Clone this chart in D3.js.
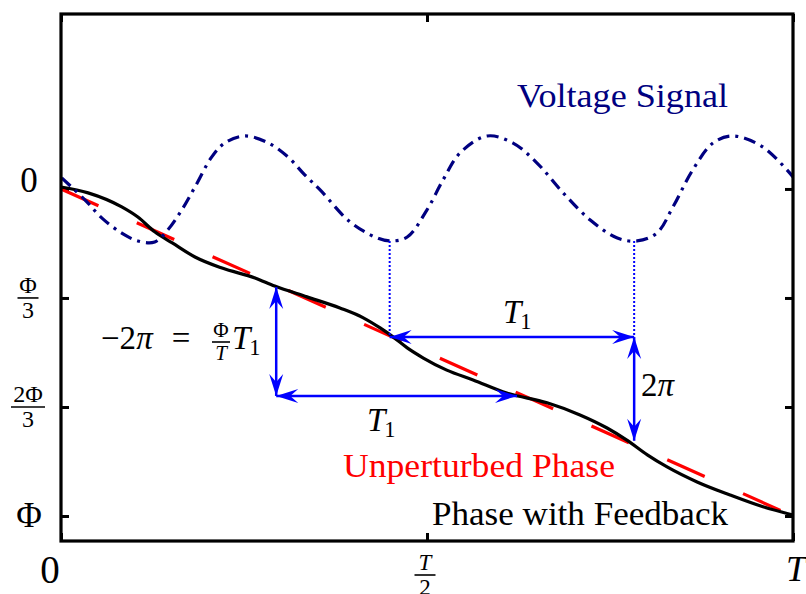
<!DOCTYPE html>
<html><head><meta charset="utf-8">
<script src="https://cdn.jsdelivr.net/npm/d3@7"></script>
<style>
body{margin:0;background:#fff}
svg{display:block}
</style>
</head><body>
<svg id="c" width="806" height="594"></svg>
<script>
// ---- data (time in units of T, phase in units of Φ, growing downward) ----
const xTickValues = [0, 0.5, 1];
const yTickValues = [0, 1/3, 2/3, 1];
const yTickLabels = [["0"], ["Φ","3"], ["2Φ","3"], ["Φ"]];

const unperturbedT = [0, 1];
const unperturbedPhase = [0, 1];

const feedbackT = [0,0.037,0.083,0.105,0.128,0.152,0.183,0.220,0.265,0.292,0.336,0.381,0.413,0.436,0.454,0.473,0.495,0.527,0.563,0.609,0.664,0.709,0.746,0.773,0.801,0.828,0.869,0.914,0.959,1.0];
const feedbackPhase = [-0.006,0.012,0.055,0.086,0.131,0.165,0.208,0.242,0.272,0.297,0.330,0.364,0.394,0.425,0.453,0.486,0.517,0.554,0.584,0.624,0.654,0.691,0.731,0.768,0.813,0.850,0.896,0.936,0.972,0.997];

const voltageT = [0.001,0.033,0.056,0.083,0.105,0.128,0.146,0.165,0.183,0.206,0.224,0.251,0.283,0.310,0.333,0.354,0.395,0.432,0.449,0.473,0.500,0.522,0.545,0.582,0.617,0.650,0.686,0.723,0.760,0.787,0.814,0.836,0.863,0.891,0.918,0.959,1.0];
const voltageLevel = [-0.034,0.034,0.089,0.135,0.159,0.162,0.125,0.064,-0.006,-0.098,-0.141,-0.162,-0.141,-0.098,-0.043,0.003,0.101,0.150,0.159,0.147,0.064,-0.028,-0.110,-0.162,-0.141,-0.080,0.012,0.095,0.150,0.159,0.135,0.055,-0.058,-0.141,-0.162,-0.128,-0.037];

// annotation anchors (data units)
const t1Start = 0.449, t1End = 0.783, t1Level = 0.453, twoPiEnd = 0.770;
const leftArrowT = 0.294, leftArrowTop = 0.300, leftArrowBottom = 0.633, leftArrowEnd = 0.623;
const voltageMinLevel = 0.159;

const SERIF = "'Liberation Serif', 'Times New Roman', Tinos, 'DejaVu Serif', serif";

// ---- layout ----
const svg = d3.select("#c");
const x = d3.scaleLinear().domain([0, 1]).range([61, 793]);
const y = d3.scaleLinear().domain([-0.535, 1.0765]).range([14, 541]);

const gAxes = svg.append("g");
function styleAxis(g){
  g.select(".domain").remove();
  g.selectAll(".tick line").attr("stroke","#000").attr("stroke-width",3);
}
gAxes.append("g").attr("transform",`translate(${x(0)},0)`)
  .call(d3.axisLeft(y).tickValues(yTickValues).tickFormat("").tickSizeInner(-8).tickSizeOuter(0)).call(styleAxis);
gAxes.append("g").attr("transform",`translate(${x(1)},0)`)
  .call(d3.axisRight(y).tickValues(yTickValues).tickFormat("").tickSizeInner(-8).tickSizeOuter(0)).call(styleAxis);
gAxes.append("g").attr("transform",`translate(0,${y.range()[1]})`)
  .call(d3.axisBottom(x).tickValues(xTickValues).tickFormat("").tickSizeInner(-8).tickSizeOuter(0)).call(styleAxis);
gAxes.append("g").attr("transform",`translate(0,${y.range()[0]})`)
  .call(d3.axisTop(x).tickValues(xTickValues).tickFormat("").tickSizeInner(-8).tickSizeOuter(0)).call(styleAxis);

// ---- lines ----
const lineSmooth = d3.line().x(d=>x(d[0])).y(d=>y(d[1])).curve(d3.curveCatmullRom.alpha(0.5));
const lineMono = d3.line().x(d=>x(d[0])).y(d=>y(d[1])).curve(d3.curveMonotoneX);
svg.append("path").datum(d3.zip(unperturbedT, unperturbedPhase)).attr("d", lineMono)
  .attr("fill","none").attr("stroke","#ff0000").attr("stroke-width",3.2).attr("stroke-dasharray","41,42");
svg.append("path").datum(d3.zip(feedbackT, feedbackPhase)).attr("d", lineMono)
  .attr("fill","none").attr("stroke","#000").attr("stroke-width",3.2);
svg.append("path").datum(d3.zip(voltageT, voltageLevel)).attr("d", lineSmooth)
  .attr("fill","none").attr("stroke","#000080").attr("stroke-width",3.2).attr("stroke-dasharray","12,6,3,6");

// frame
svg.append("rect").attr("x",x(0)).attr("y",y.range()[0]).attr("width",x(1)-x(0)).attr("height",y.range()[1]-y.range()[0])
  .attr("fill","none").attr("stroke","#000").attr("stroke-width",3.2);

// ---- annotations ----
const blue = "#0000ff";
const ann = svg.append("g");
function head(px, py, ang){
  ann.append("path").attr("d","M0,0L-22,-7L-14,0L-22,7Z").attr("fill",blue)
    .attr("transform",`translate(${px},${py}) rotate(${ang})`);
}
function dblArrow(x1,y1,x2,y2){
  ann.append("line").attr("x1",x1).attr("y1",y1).attr("x2",x2).attr("y2",y2).attr("stroke",blue).attr("stroke-width",2.5);
  const a = Math.atan2(y2-y1,x2-x1)*180/Math.PI;
  head(x2,y2,a); head(x1,y1,a+180);
}
function dotted(x1,y1,x2,y2){
  ann.append("line").attr("x1",x1).attr("y1",y1).attr("x2",x2).attr("y2",y2).attr("stroke",blue).attr("stroke-width",2).attr("stroke-dasharray","2,2");
}
dotted(x(t1Start), y(voltageMinLevel), x(t1Start), y(t1Level));
dotted(x(t1End), y(voltageMinLevel), x(t1End), y(t1Level));
dblArrow(x(t1Start), y(t1Level), x(t1End), y(t1Level));
dblArrow(x(t1End), y(t1Level), x(t1End), y(twoPiEnd));
dblArrow(x(leftArrowT), y(leftArrowTop), x(leftArrowT), y(leftArrowBottom));
dblArrow(x(leftArrowT), y(leftArrowBottom), x(leftArrowEnd), y(leftArrowBottom));

// ---- text helpers ----
function frac(cx, by, num, den, fs, barW, italicNum, italicDen){
  const n = svg.append("text").attr("x",cx).attr("y",by-5).attr("text-anchor","middle").attr("font-size",fs);
  if(italicNum) n.attr("font-style","italic");
  n.text(num);
  svg.append("line").attr("x1",cx-barW/2).attr("x2",cx+barW/2).attr("y1",by).attr("y2",by).attr("stroke","#000").attr("stroke-width",1.6);
  const t = svg.append("text").attr("x",cx).attr("y",by+fs*0.85).attr("text-anchor","middle").attr("font-size",fs);
  if(italicDen) t.attr("font-style","italic");
  t.text(den);
}
function tSub(xx, by, fs){
  const t = svg.append("text").attr("x",xx).attr("y",by).attr("font-size",fs);
  t.append("tspan").attr("font-style","italic").text("T");
  t.append("tspan").attr("font-size",fs*0.68).attr("dy",6).attr("dx",-1).text("1");
}

// y tick labels
yTickValues.forEach((v,i)=>{
  const lab = yTickLabels[i];
  if(lab.length===1){
    svg.append("text").attr("x",29).attr("y",y(v)+ (i===0?3:11)).attr("text-anchor","middle").attr("font-size",35).text(lab[0]);
  } else {
    frac(28, y(v), lab[0], lab[1], 24, i===1?21:34, false, false);
  }
});
// x tick labels
svg.append("text").attr("x",50).attr("y",583).attr("text-anchor","middle").attr("font-size",39).text("0");
frac(x(0.5)-2, 575, "T", "2", 23, 21, true, false);
svg.append("text").attr("x",x(1)+3).attr("y",581).attr("text-anchor","middle").attr("font-size",36).attr("font-style","italic").text("T");

// labels
svg.append("text").attr("x",517).attr("y",107).attr("font-size",33).attr("fill","#000080")
  .attr("textLength",211).attr("lengthAdjust","spacingAndGlyphs").text("Voltage Signal");
svg.append("text").attr("x",343).attr("y",477).attr("font-size",33).attr("fill","#ff0000")
  .attr("textLength",272).attr("lengthAdjust","spacingAndGlyphs").text("Unperturbed Phase");
svg.append("text").attr("x",432).attr("y",525).attr("font-size",33).attr("fill","#000")
  .attr("textLength",296).attr("lengthAdjust","spacingAndGlyphs").text("Phase with Feedback");

tSub(503, 323, 33);
tSub(367, 431, 33);
const tp = svg.append("text").attr("x",641).attr("y",396).attr("font-size",33);
tp.append("tspan").text("2"); tp.append("tspan").attr("font-style","italic").text("π");

const lm = svg.append("text").attr("x",101).attr("y",349).attr("font-size",33);
lm.append("tspan").text("−2"); lm.append("tspan").attr("font-style","italic").text("π");
svg.append("text").attr("x",181).attr("y",349).attr("text-anchor","middle").attr("font-size",33).text("=");
frac(221, 342, "Φ", "T", 21, 18, false, true);
tSub(232, 349, 33);

svg.selectAll("text").style("font-family", SERIF);
</script>
</body></html>
